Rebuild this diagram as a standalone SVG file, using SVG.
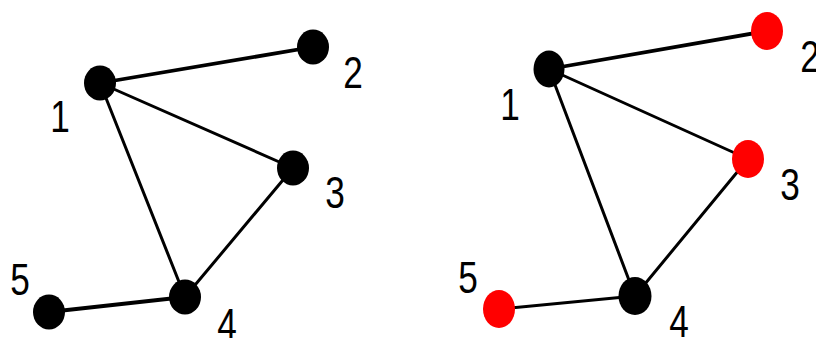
<svg xmlns="http://www.w3.org/2000/svg" width="816" height="338" viewBox="0 0 816 338">
<style>
.e{stroke:#000;stroke-width:3;stroke-linecap:round}
.t{stroke-width:3.8}
.n{fill:#000}
.r{fill:#f00}
.l{font-family:"Liberation Sans",Arial,sans-serif;font-size:44px;fill:#000;text-anchor:middle}
</style>
<rect width="816" height="338" fill="#fff"/>
<g id="connectors">
<line class="e t" x1="100" y1="83" x2="313" y2="47"/>
<line class="e" x1="100" y1="83" x2="293" y2="168"/>
<line class="e" x1="100" y1="83" x2="185" y2="297"/>
<line class="e" x1="293" y1="168" x2="185" y2="297"/>
<line class="e t" x1="49" y1="312" x2="185" y2="297"/>
<line class="e t" x1="549" y1="69" x2="767" y2="31"/>
<line class="e" x1="549" y1="69" x2="748" y2="159"/>
<line class="e" x1="549" y1="69" x2="635" y2="296"/>
<line class="e" x1="748" y1="159" x2="635" y2="296"/>
<line class="e" x1="499" y1="309" x2="635" y2="296"/>
</g>
<g id="L1"><ellipse class="n" cx="100" cy="83" rx="16" ry="17.5"/><text class="l" transform="translate(60,132) scale(0.8,1)">1</text></g>
<g id="L2"><ellipse class="n" cx="313" cy="47" rx="16" ry="17.5"/><text class="l" transform="translate(353,88) scale(0.8,1)">2</text></g>
<g id="L3"><ellipse class="n" cx="293" cy="168" rx="16" ry="17.5"/><text class="l" transform="translate(335,208) scale(0.8,1)">3</text></g>
<g id="L4"><ellipse class="n" cx="185" cy="297" rx="16" ry="17.5"/><text class="l" transform="translate(227,340) scale(0.8,1)">4</text></g>
<g id="L5"><ellipse class="n" cx="49" cy="312" rx="16" ry="17.5"/><text class="l" transform="translate(20,295) scale(0.8,1)">5</text></g>
<g id="R1"><ellipse class="n" cx="549" cy="69" rx="15.5" ry="18.5"/><text class="l" transform="translate(510,120) scale(0.8,1)">1</text></g>
<g id="R2"><ellipse class="r" cx="767" cy="31" rx="16" ry="19"/><text class="l" transform="translate(810,72) scale(0.8,1)">2</text></g>
<g id="R3"><ellipse class="r" cx="748" cy="159" rx="16" ry="19"/><text class="l" transform="translate(790,200) scale(0.8,1)">3</text></g>
<g id="R4"><ellipse class="n" cx="635" cy="296" rx="16.5" ry="19"/><text class="l" transform="translate(679,337) scale(0.8,1)">4</text></g>
<g id="R5"><ellipse class="r" cx="499" cy="309" rx="16" ry="19"/><text class="l" transform="translate(468,293) scale(0.8,1)">5</text></g>
</svg>
